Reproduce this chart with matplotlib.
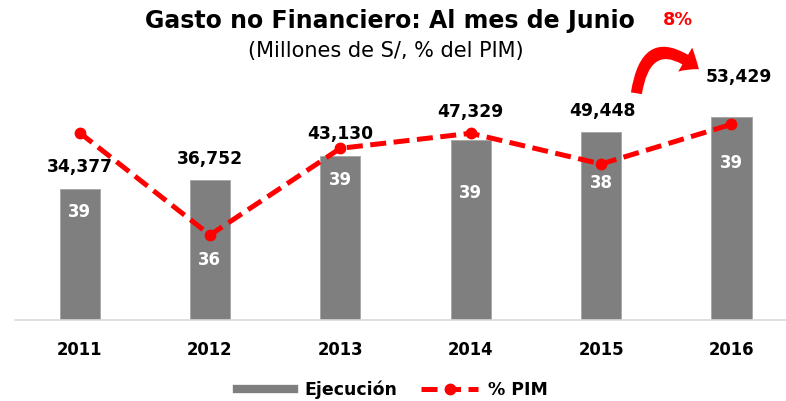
import matplotlib
matplotlib.use("Agg")
import matplotlib.pyplot as plt
from matplotlib.lines import Line2D
from matplotlib.patches import FancyArrowPatch

# ---- data ----
years = ["2011", "2012", "2013", "2014", "2015", "2016"]
ejecucion = [34377, 36752, 43130, 47329, 49448, 53429]
pim_pct = [39.28, 36.08, 38.79, 39.26, 38.30, 39.54]
pim_labels = ["39", "36", "39", "39", "38", "39"]
growth_label = "8%"

FONT = ["DejaVu Sans"]
plt.rcParams["font.family"] = FONT

GRAY = "#7f7f7f"
RED = "#ff0000"

W, H = 786, 401
fig = plt.figure(figsize=(W / 100, H / 100), dpi=100)

left_px, right_px, top_px, base_px = 15, 786, 60, 320
ax = fig.add_axes([left_px / W, 1 - base_px / H, (right_px - left_px) / W, (base_px - top_px) / H])
x = list(range(len(years)))
ax.bar(x, ejecucion, width=0.307, color=GRAY, edgecolor="#a6a6a6", linewidth=0.6, zorder=2)
ax.set_xlim(-0.495, 5.418)
ax.set_ylim(0, 68300)
for s in ["top", "left", "right"]:
    ax.spines[s].set_visible(False)
ax.spines["bottom"].set_color("#d9d9d9")
ax.spines["bottom"].set_linewidth(1.2)
ax.set_yticks([])
ax.set_xticks(x)
ax.set_xticklabels(years, fontsize=11.9, fontweight="bold")
ax.tick_params(axis="x", length=0, pad=15)

# bar value labels
bar_lab_dy = [22, 21, 22, 28, 21, 40]
bar_lab_dx = [0, 0, 0, 0, 1, 7]
for i, v in enumerate(ejecucion):
    ax.annotate(f"{v:,}", (i, v), xytext=(bar_lab_dx[i], bar_lab_dy[i]),
                textcoords="offset pixels", ha="center", va="center",
                fontsize=12.3, fontweight="bold", color="black", zorder=5)

ax2 = ax.twinx()
ax2.set_ylim(33.425, 41.55)
ax2.set_xlim(ax.get_xlim())
for s in ax2.spines.values():
    s.set_visible(False)
ax2.set_yticks([])
ax2.plot(x, pim_pct, color=RED, lw=3.6, dashes=(3.2, 1.5), marker="o",
         markersize=7.5, zorder=3)

pim_lab_dy = [79, 25, 32, 60, 19, 39]
for i, v in enumerate(pim_pct):
    ax2.annotate(pim_labels[i], (i, v), xytext=(0, -pim_lab_dy[i]),
                 textcoords="offset pixels", ha="center", va="center",
                 fontsize=11.9, fontweight="bold", color="white", zorder=6)

# titles
fig.text(389.5 / W, 1 - 21 / H, "Gasto no Financiero: Al mes de Junio",
         ha="center", va="center", fontsize=17, fontweight="bold")
fig.text(386 / W, 1 - 51 / H, "(Millones de S/, % del PIM)",
         ha="center", va="center", fontsize=15)
fig.text(678 / W, 1 - 20 / H, growth_label, ha="center", va="center",
         fontsize=12.7, fontweight="bold", color=RED)

arrow = FancyArrowPatch((636 / W, 1 - 96 / H), (701 / W, 1 - 71 / H),
                        transform=fig.transFigure,
                        connectionstyle="arc3,rad=-0.9",
                        arrowstyle="simple,head_length=1.2,head_width=2.0,tail_width=0.8",
                        mutation_scale=10, color=RED, lw=0)
fig.patches.append(arrow)

handles = [Line2D([0], [0], color=GRAY, lw=6),
           Line2D([0], [0], color=RED, lw=3.6, dashes=(3.2, 1.5), marker="o", markersize=7.5)]
fig.legend(handles, ["Ejecución", "% PIM"], loc="center", bbox_to_anchor=(392.5 / W, 1 - 390 / H),
           ncol=2, frameon=False, prop={"weight": "bold", "size": 12.5, "family": FONT},
           handlelength=3.3, columnspacing=1.4, handletextpad=0.55)

fig.savefig("out.png", dpi=100)
